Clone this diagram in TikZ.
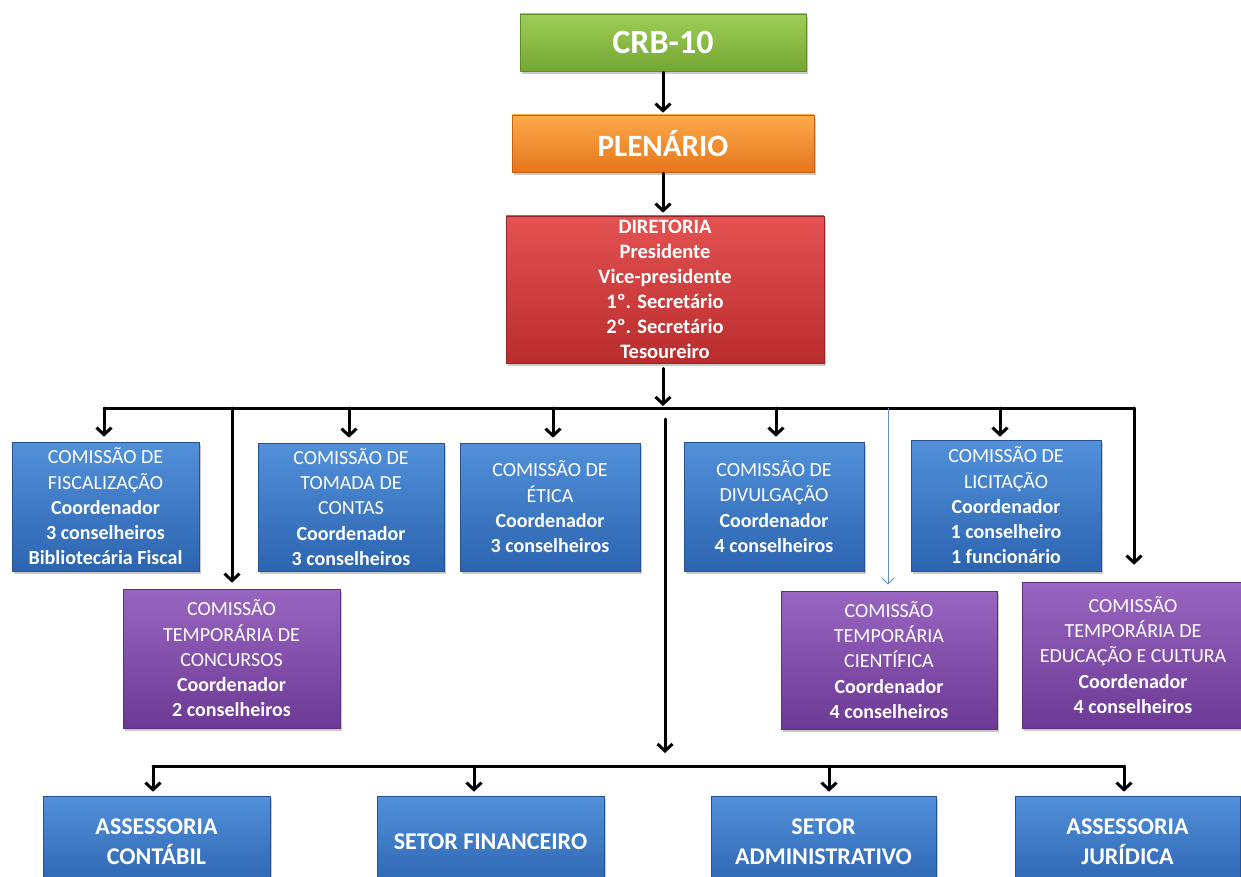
\documentclass[tikz,border=0pt]{standalone}
\usepackage{fontspec}
\setmainfont{Carlito}
\usetikzlibrary{arrows.meta,shadows}
\definecolor{gT}{RGB}{158,206,88}\definecolor{gB}{RGB}{116,166,50}\definecolor{gD}{RGB}{96,140,40}
\definecolor{oT}{RGB}{252,170,74}\definecolor{oB}{RGB}{230,118,28}\definecolor{oD}{RGB}{196,98,20}
\definecolor{rT}{RGB}{228,82,82}\definecolor{rB}{RGB}{186,44,44}\definecolor{rD}{RGB}{150,36,36}
\definecolor{bT}{RGB}{82,144,218}\definecolor{bB}{RGB}{44,100,176}\definecolor{bD}{RGB}{36,82,146}
\definecolor{pT}{RGB}{152,102,192}\definecolor{pB}{RGB}{108,58,148}\definecolor{pD}{RGB}{90,48,124}
\definecolor{thinblue}{RGB}{100,140,200}
\tikzset{
  box/.style={rectangle, inner sep=0pt, align=center, text=white,
    drop shadow={shadow xshift=2pt, shadow yshift=-3pt, opacity=0.35, fill=black!60}},
  greenbox/.style={box, top color=gT, bottom color=gB, draw=gD, line width=0.6pt},
  orangebox/.style={box, top color=oT, bottom color=oB, draw=oD, line width=0.6pt},
  redbox/.style={box, top color=rT, bottom color=rB, draw=rD, line width=0.6pt},
  bluebox/.style={box, top color=bT, bottom color=bB, draw=bD, line width=0.6pt},
  purplebox/.style={box, top color=pT, bottom color=pB, draw=pD, line width=0.6pt},
  crbtext/.style={font=\fontsize{34}{38}\selectfont\bfseries},
  bigtext/.style={font=\fontsize{31}{36}\selectfont\bfseries},
  dirtext/.style={font=\fontsize{20.5}{25}\selectfont\bfseries},
  comtext/.style={font=\fontsize{20}{25.3}\selectfont},
  bottext/.style={font=\fontsize{24}{30}\selectfont\bfseries},
  conn/.style={draw=black, line width=3pt, line cap=round, line join=round},
  arr/.style={conn, -{Straight Barb[length=7pt,width=15pt,line width=3pt]}},
  thinarr/.style={draw=thinblue, line width=1pt, -{Straight Barb[length=6pt,width=12pt,line width=1pt]}}
}
\newcommand{\bl}[1]{\textbf{#1}}
\begin{document}
\begin{tikzpicture}[x=1pt,y=-1pt]
\useasboundingbox (0,0) rectangle (1241,877);
\clip (0,0) rectangle (1241,877);
\fill[white] (0,0) rectangle (1241,877);
% top chain
\node[greenbox, crbtext, minimum width=286pt, minimum height=57pt] (crb) at (663,42.5) {CRB-10};
\node[orangebox, bigtext, minimum width=302pt, minimum height=57pt] (plen) at (663,143.5) {PLENÁRIO};
\node[redbox, dirtext, minimum width=318pt, minimum height=147pt] (dir) at (665,289.5)
  {DIRETORIA\\Presidente\\Vice-presidente\\1º. Secretário\\2º. Secretário\\Tesoureiro};
% commissions row 1
\node[bluebox, comtext, minimum width=187pt, minimum height=129pt] (fisc) at (105.5,506.5)
  {COMISSÃO DE\\FISCALIZAÇÃO\\\bl{Coordenador}\\\bl{3 conselheiros}\\\bl{Bibliotecária Fiscal}};
\node[bluebox, comtext, minimum width=186pt, minimum height=128pt] (tom) at (351,507)
  {COMISSÃO DE\\TOMADA DE\\CONTAS\\\bl{Coordenador}\\\bl{3 conselheiros}};
\node[bluebox, comtext, minimum width=180pt, minimum height=128pt] (etica) at (550,507)
  {COMISSÃO DE\\ÉTICA\\\bl{Coordenador}\\\bl{3 conselheiros}};
\node[bluebox, comtext, minimum width=180pt, minimum height=129pt] (div) at (774,506.5)
  {COMISSÃO DE\\DIVULGAÇÃO\\\bl{Coordenador}\\\bl{4 conselheiros}};
\node[bluebox, comtext, minimum width=190pt, minimum height=131pt] (lic) at (1006,505.5)
  {COMISSÃO DE\\LICITAÇÃO\\\bl{Coordenador}\\\bl{1 conselheiro}\\\bl{1 funcionário}};
% commissions row 2
\node[purplebox, comtext, minimum width=217pt, minimum height=139pt] (conc) at (231.5,658.5)
  {COMISSÃO\\TEMPORÁRIA DE\\CONCURSOS\\\bl{Coordenador}\\\bl{2 conselheiros}};
\node[purplebox, comtext, minimum width=216pt, minimum height=138pt] (cient) at (889,660)
  {COMISSÃO\\TEMPORÁRIA\\CIENTÍFICA\\\bl{Coordenador}\\\bl{4 conselheiros}};
\node[purplebox, comtext, minimum width=222pt, minimum height=146pt] (edu) at (1133,655)
  {COMISSÃO\\TEMPORÁRIA DE\\EDUCAÇÃO E CULTURA\\\bl{Coordenador}\\\bl{4 conselheiros}};
% bottom row
\node[bluebox, bottext, minimum width=227pt, minimum height=92pt] (cont) at (156.5,842) {ASSESSORIA\\CONTÁBIL};
\node[bluebox, bottext, minimum width=227pt, minimum height=92pt] (fin) at (490.5,842) {SETOR FINANCEIRO};
\node[bluebox, bottext, minimum width=225pt, minimum height=92pt] (adm) at (823.5,842) {SETOR\\ADMINISTRATIVO};
\node[bluebox, bottext, minimum width=225pt, minimum height=92pt] (jur) at (1127.5,842) {ASSESSORIA\\JURÍDICA};
% connectors top
\draw[arr, shorten <=1pt, shorten >=2pt] (crb.south) -- (crb.south |- plen.north);
\draw[arr, shorten <=1pt, shorten >=3pt] (plen.south) -- (plen.south |- dir.north);
\coordinate (bar) at (663,408);
\draw[arr, shorten <=5pt, shorten >=2pt] (bar |- dir.south) -- (bar);
\coordinate (bL) at (104,408);
\coordinate (bR) at (1134,408);
\draw[conn] (bL) -- (bR);
\draw[arr, shorten >=5pt] (bL) -- (bL |- fisc.north);
\coordinate (c2) at (232,408);
\draw[arr, shorten >=6pt] (c2) -- (c2 |- conc.north);
\coordinate (c3) at (349,408);
\draw[arr, shorten >=5pt] (c3) -- (c3 |- tom.north);
\coordinate (c4) at (553,408);
\draw[arr, shorten >=5pt] (c4) -- (c4 |- etica.north);
\coordinate (c6) at (776,408);
\draw[arr, shorten >=5pt] (c6) -- (c6 |- div.north);
\coordinate (c7) at (888,408);
\draw[thinarr, shorten >=6pt] (c7) -- (c7 |- cient.north);
\coordinate (c8) at (1000,408);
\draw[arr, shorten >=3pt] (c8) -- (c8 |- lic.north);
\draw[arr, shorten >=17pt] (bR) -- (bR |- edu.north);
% central long arrow
\coordinate (m1) at (665,419);
\coordinate (m2) at (665,753);
\draw[arr] (m1) -- (m2);
% bottom bar
\coordinate (dL) at (153,766);
\coordinate (dR) at (1124,766);
\draw[conn] (dL) -- (dR);
\draw[arr, shorten >=4pt] (dL) -- (dL |- cont.north);
\coordinate (d2) at (474,766);
\draw[arr, shorten >=4pt] (d2) -- (d2 |- fin.north);
\coordinate (d3) at (829,766);
\draw[arr, shorten >=4pt] (d3) -- (d3 |- adm.north);
\draw[arr, shorten >=4pt] (dR) -- (dR |- jur.north);
\end{tikzpicture}
\end{document}
